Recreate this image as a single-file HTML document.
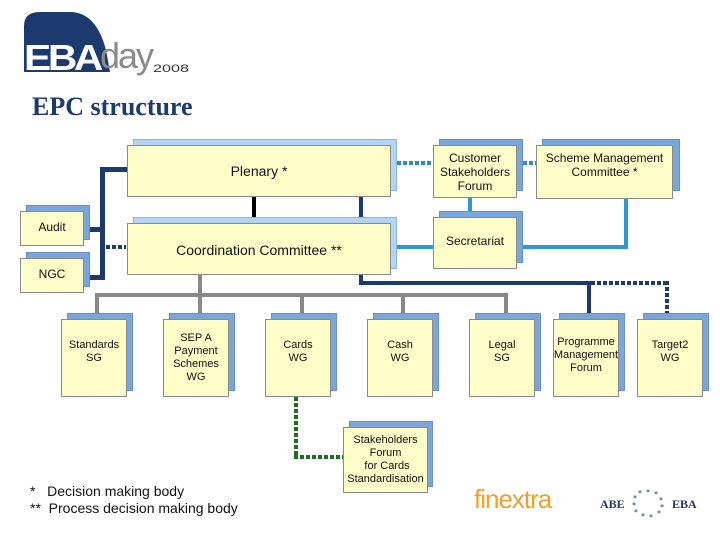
<!DOCTYPE html>
<html><head><meta charset="utf-8"><style>
*{margin:0;padding:0;box-sizing:border-box}
body{width:720px;height:540px;background:#fff;position:relative;overflow:hidden;font-family:"Liberation Sans",Arial,sans-serif}
.b{position:absolute;background:#fffdc8;border:1px solid #8a8a8a;display:flex;align-items:center;justify-content:center;text-align:center;font-size:11px;line-height:13px;color:#111}
.s{position:absolute;background:#7aa6dc;border:1px solid #6b8fc0}
.sl{position:absolute;background:#b3d3f7;border:1px solid #8fb4e0}
.l{position:absolute}
.dh{position:absolute;height:4px}
.dv{position:absolute;width:4px}
</style></head><body>
<svg style="position:absolute;left:0;top:0" width="240" height="90">
<path d="M24 72 V26 Q24 12 40 12 H70 Q96 12 106 50 L110 72 Z" fill="#1c3a6e"/>
<text x="24" y="70" font-family="Liberation Sans" font-weight="bold" font-size="36" fill="#fff" letter-spacing="-3" textLength="76" lengthAdjust="spacingAndGlyphs">EBA</text>
<text x="100" y="68" font-family="Liberation Sans" font-size="36" fill="#8a8a8a" letter-spacing="-2" textLength="52" lengthAdjust="spacingAndGlyphs">day</text>
<text x="153" y="72" font-family="Liberation Sans" font-size="11" fill="#333" textLength="36" lengthAdjust="spacingAndGlyphs">2008</text>
</svg>
<div style="position:absolute;left:32px;top:92px;font-family:'Liberation Serif',serif;font-weight:bold;font-size:26px;color:#1c3a6e">EPC structure</div>

<!-- connectors -->
<div class="l" style="left:100px;top:167px;width:5px;height:113px;background:#1c3a6e"></div>
<div class="l" style="left:100px;top:167px;width:27px;height:5px;background:#1c3a6e"></div>
<div class="l" style="left:84px;top:227px;width:18px;height:5px;background:#1c3a6e"></div>
<div class="l" style="left:84px;top:275px;width:18px;height:5px;background:#1c3a6e"></div>
<div class="dh" style="left:106px;top:245px;width:20px;background:repeating-linear-gradient(90deg,#1c3a6e 0 4px,transparent 4px 6px)"></div>
<div class="l" style="left:252px;top:197px;width:4px;height:26px;background:#000"></div>
<div class="l" style="left:359px;top:197px;width:4px;height:88px;background:#1c3a6e"></div>
<div class="l" style="left:359px;top:281px;width:232px;height:4px;background:#1c3a6e"></div>
<div class="l" style="left:587px;top:281px;width:4px;height:39px;background:#1c3a6e"></div>
<div class="dh" style="left:591px;top:281px;width:78px;background:repeating-linear-gradient(90deg,#1c3a6e 0 4px,transparent 4px 6px)"></div>
<div class="dv" style="left:665px;top:281px;height:39px;background:repeating-linear-gradient(180deg,#1c3a6e 0 4px,transparent 4px 6px)"></div>
<div class="dh" style="left:397px;top:161px;width:36px;background:repeating-linear-gradient(90deg,#2a8fc0 0 4px,transparent 4px 6px)"></div>
<div class="dh" style="left:517px;top:161px;width:19px;background:repeating-linear-gradient(90deg,#2a8fc0 0 4px,transparent 4px 6px)"></div>
<div class="l" style="left:468px;top:197px;width:4px;height:20px;background:#2a9ad0"></div>
<div class="l" style="left:397px;top:245px;width:36px;height:4px;background:#2a9ad0"></div>
<div class="l" style="left:517px;top:245px;width:111px;height:4px;background:#2a9ad0"></div>
<div class="l" style="left:624px;top:199px;width:4px;height:50px;background:#2a9ad0"></div>
<div class="l" style="left:198px;top:275px;width:4px;height:44px;background:#888"></div>
<div class="l" style="left:95px;top:293px;width:413px;height:4px;background:#888"></div>
<div class="l" style="left:95px;top:293px;width:4px;height:26px;background:#888"></div>
<div class="l" style="left:300px;top:293px;width:4px;height:26px;background:#888"></div>
<div class="l" style="left:401px;top:293px;width:4px;height:26px;background:#888"></div>
<div class="l" style="left:504px;top:293px;width:4px;height:26px;background:#888"></div>
<div class="dv" style="left:294px;top:397px;height:62px;background:repeating-linear-gradient(180deg,#1e6e1e 0 4px,transparent 4px 6px)"></div>
<div class="dh" style="left:294px;top:455px;width:49px;background:repeating-linear-gradient(90deg,#1e6e1e 0 4px,transparent 4px 6px)"></div>

<!-- boxes -->
<div class="sl" style="left:133px;top:139px;width:264px;height:52px"></div>
<div class="b" style="left:127px;top:145px;width:264px;height:52px;font-size:14px">Plenary *</div>
<div class="sl" style="left:133px;top:217px;width:264px;height:52px"></div>
<div class="b" style="left:127px;top:223px;width:264px;height:52px;font-size:14px;padding-top:2px">Coordination Committee **</div>
<div class="s" style="left:26px;top:205px;width:64px;height:35px"></div>
<div class="b" style="left:20px;top:211px;width:64px;height:35px;font-size:12px;padding-bottom:2px">Audit</div>
<div class="s" style="left:26px;top:252px;width:64px;height:35px"></div>
<div class="b" style="left:20px;top:258px;width:64px;height:35px;font-size:12px;padding-bottom:2px">NGC</div>
<div class="s" style="left:439px;top:139px;width:84px;height:52px"></div>
<div class="b" style="left:433px;top:145px;width:84px;height:53px;font-size:12px;line-height:14px">Customer<br>Stakeholders<br>Forum</div>
<div class="s" style="left:542px;top:139px;width:138px;height:52px"></div>
<div class="b" style="left:536px;top:145px;width:137px;height:54px;font-size:12px;line-height:14px;padding-bottom:14px">Scheme Management<br>Committee *</div>
<div class="s" style="left:439px;top:211px;width:84px;height:52px"></div>
<div class="b" style="left:433px;top:217px;width:84px;height:52px;font-size:12px;padding-bottom:4px">Secretariat</div>

<div class="s" style="left:67px;top:313px;width:66px;height:78px"></div>
<div class="b" style="left:61px;top:319px;width:66px;height:78px;padding-bottom:13px">Standards<br>SG</div>
<div class="s" style="left:169px;top:313px;width:66px;height:78px"></div>
<div class="b" style="left:163px;top:319px;width:66px;height:78px">SEP A<br>Payment<br>Schemes<br>WG</div>
<div class="s" style="left:271px;top:313px;width:66px;height:78px"></div>
<div class="b" style="left:265px;top:319px;width:66px;height:78px;padding-bottom:13px">Cards<br>WG</div>
<div class="s" style="left:373px;top:313px;width:66px;height:78px"></div>
<div class="b" style="left:367px;top:319px;width:66px;height:78px;padding-bottom:13px">Cash<br>WG</div>
<div class="s" style="left:475px;top:313px;width:66px;height:78px"></div>
<div class="b" style="left:469px;top:319px;width:66px;height:78px;padding-bottom:13px">Legal<br>SG</div>
<div class="s" style="left:559px;top:313px;width:66px;height:78px"></div>
<div class="b" style="left:553px;top:319px;width:66px;height:78px;padding-bottom:6px">Programme<br>Management<br>Forum</div>
<div class="s" style="left:643px;top:313px;width:66px;height:78px"></div>
<div class="b" style="left:637px;top:319px;width:66px;height:78px;padding-bottom:13px">Target2<br>WG</div>
<div class="s" style="left:349px;top:421px;width:84px;height:66px"></div>
<div class="b" style="left:343px;top:427px;width:85px;height:66px">Stakeholders<br>Forum<br>&nbsp;for Cards<br>Standardisation</div>

<div style="position:absolute;left:30px;top:483px;font-size:14px;line-height:17px;color:#111;white-space:pre">*   Decision making body
**  Process decision making body</div>

<div style="position:absolute;left:474px;top:484px;font-size:26px;color:#f0a030;letter-spacing:-1px;font-family:'Liberation Sans',sans-serif">finextra</div>
<div style="position:absolute;left:600px;top:497px;font-family:'Liberation Serif',serif;font-weight:bold;font-size:12px;color:#1c3a6e">ABE</div>
<div style="position:absolute;left:672px;top:497px;font-family:'Liberation Serif',serif;font-weight:bold;font-size:12px;color:#1c3a6e">EBA</div>
<svg style="position:absolute;left:628px;top:486px" width="40" height="36">
<g fill="#1c3a6e" font-size="8" text-anchor="middle" font-family="DejaVu Sans">
<text x="20" y="9">*</text><text x="28" y="11">*</text><text x="33" y="17">*</text><text x="34" y="24">*</text><text x="31" y="30">*</text><text x="23" y="34">*</text><text x="15" y="33">*</text><text x="8" y="29">*</text><text x="6" y="22">*</text><text x="7" y="15">*</text><text x="12" y="10">*</text>
</g></svg>
</body></html>
